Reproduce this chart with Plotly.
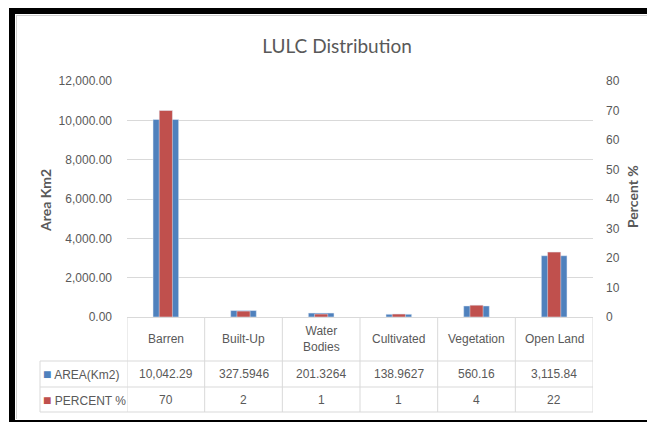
import plotly.graph_objects as go

# data
categories = ['Barren', 'Built-Up', 'Water Bodies', 'Cultivated', 'Vegetation', 'Open Land']
header_labels = ['Barren', 'Built-Up', 'Water<br>Bodies', 'Cultivated', 'Vegetation', 'Open Land']
area_km2 = [10042.29, 327.5946, 201.3264, 138.9627, 560.16, 3115.84]
area_text = ['10,042.29', '327.5946', '201.3264', '138.9627', '560.16', '3,115.84']
percent = [70, 2, 1, 1, 4, 22]

BLUE = '#4F81BD'
RED = '#C0504D'
GRID = '#D9D9D9'
TXT = '#595959'
FONT = 'Liberation Sans, Arial, sans-serif'

# the page body keeps its 8px default margin, so work in page pixels minus 8
OFF = 8
W, H = 655 - OFF, 422 - OFF
L, R, T, B = 127 - OFF, 655 - 593, 81 - OFF, 422 - 317
PW, PH = W - L - R, H - T - B


def px_x(x):
    return (x - OFF - L) / PW


def px_y(y):
    return (H - B - (y - OFF)) / PH


idx = list(range(len(categories)))

fig = go.Figure()
fig.add_trace(go.Bar(x=idx, y=area_km2, name='AREA(Km2)', marker_color=BLUE,
                     width=0.33, yaxis='y'))
fig.add_trace(go.Bar(x=idx, y=percent, name='PERCENT %', marker_color=RED,
                     width=0.17, yaxis='y2'))

shapes = []
# outer black frame of the pasted picture
for x0, y0, x1, y1 in [(9, 8, 656, 14), (9, 8, 15, 423), (9, 420, 656, 423)]:
    shapes.append(dict(type='rect', xref='paper', yref='paper', x0=px_x(x0), x1=px_x(x1),
                       y0=px_y(y0), y1=px_y(y1), fillcolor='black', line_width=0, layer='above'))
shapes.append(dict(type='line', xref='paper', yref='paper', x0=px_x(16), x1=px_x(656),
                   y0=px_y(15.5), y1=px_y(15.5), line=dict(color='#D0D0D0', width=1)))
shapes.append(dict(type='line', xref='paper', yref='paper', x0=px_x(16.5), x1=px_x(16.5),
                   y0=px_y(15), y1=px_y(419), line=dict(color='#D0D0D0', width=1)))

# data table grid
for y in [361, 387, 412]:
    shapes.append(dict(type='line', xref='paper', yref='paper', x0=px_x(40), x1=1,
                       y0=px_y(y), y1=px_y(y), line=dict(color=GRID, width=1)))
for i in range(len(categories) + 1):
    shapes.append(dict(type='line', xref='x', yref='paper', x0=i - 0.5, x1=i - 0.5,
                       y0=0, y1=px_y(412), line=dict(color=GRID, width=1)))
shapes.append(dict(type='line', xref='paper', yref='paper', x0=px_x(40), x1=px_x(40),
                   y0=px_y(361), y1=px_y(412), line=dict(color=GRID, width=1)))

annotations = []
tfont = dict(family=FONT, size=12, color=TXT)
for i in idx:
    annotations.append(dict(x=i, y=px_y(339), xref='x', yref='paper', text=header_labels[i],
                            showarrow=False, font=tfont, yanchor='middle'))
    annotations.append(dict(x=i, y=px_y(374), xref='x', yref='paper', text=area_text[i],
                            showarrow=False, font=tfont, yanchor='middle'))
    annotations.append(dict(x=i, y=px_y(400), xref='x', yref='paper', text=str(percent[i]),
                            showarrow=False, font=tfont, yanchor='middle'))
annotations.append(dict(x=px_x(41), y=px_y(374), xref='paper', yref='paper',
                        text=f"<span style='color:{BLUE};font-size:14px'>■</span> AREA(Km2)",
                        showarrow=False, font=tfont, xanchor='left', yanchor='middle'))
annotations.append(dict(x=px_x(41), y=px_y(400), xref='paper', yref='paper',
                        text=f"<span style='color:{RED};font-size:14px'>■</span> PERCENT %",
                        showarrow=False, font=tfont, xanchor='left', yanchor='middle'))

# axis titles
afont = dict(family='Lato, sans-serif', size=14, color=TXT)
annotations.append(dict(x=px_x(45), y=px_y(201), xref='paper', yref='paper', text='<b>Area Km2</b>',
                        textangle=-90, showarrow=False, font=afont,
                        xanchor='center', yanchor='middle'))
annotations.append(dict(x=px_x(632), y=px_y(197), xref='paper', yref='paper', text='<b>Percent %</b>',
                        textangle=-90, showarrow=False, font=afont,
                        xanchor='center', yanchor='middle'))

fig.update_layout(
    width=W, height=H,
    margin=dict(l=L, r=R, t=T, b=B, pad=0),
    paper_bgcolor='white', plot_bgcolor='white',
    barmode='overlay',
    showlegend=False,
    title=dict(text='LULC Distribution', x=(337 - OFF) / W, xanchor='center', y=1 - (46 - OFF) / H,
               yanchor='middle', yref='container',
               font=dict(family='Lato, sans-serif', size=19, color=TXT)),
    xaxis=dict(range=[-0.5, 5.5], showticklabels=False, showgrid=False, zeroline=False,
               showline=True, linecolor=GRID, linewidth=1),
    yaxis=dict(range=[0, 12000], dtick=2000, tickformat=',.2f', gridcolor=GRID, gridwidth=1,
               zeroline=False, ticks='', ticklabelstandoff=14, tickfont=tfont),
    yaxis2=dict(range=[0, 80], dtick=10, overlaying='y', side='right', showgrid=False,
                zeroline=False, ticks='', ticklabelstandoff=12, tickfont=tfont),
    shapes=shapes,
    annotations=annotations,
)

fig.write_html('out.html')
